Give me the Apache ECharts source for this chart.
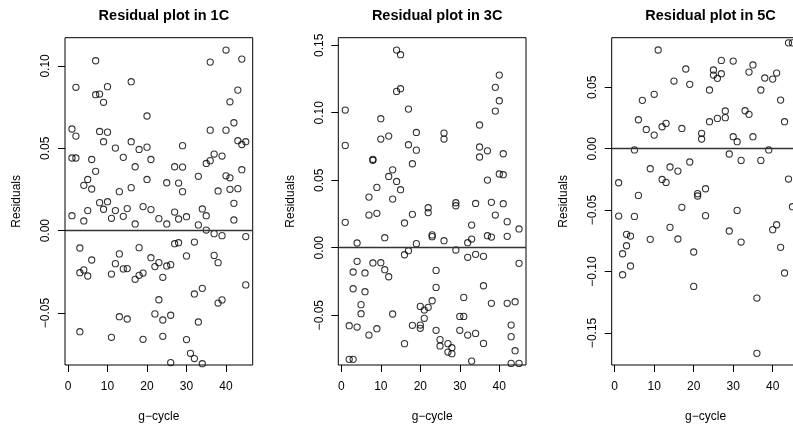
<!DOCTYPE html>
<html>
<head>
<meta charset="utf-8">
<script src="https://cdn.jsdelivr.net/npm/echarts@6/dist/echarts.min.js"></script>
<style>
  html, body { margin: 0; padding: 0; background: #ffffff; }
  #chart { width: 793px; height: 427px; }
</style>
</head>
<body>
<div id="chart"></div>
<script>
// Panel titles and axis names
const panelTitles = ['Residual plot in 1C', 'Residual plot in 3C', 'Residual plot in 5C'];
const xName = 'g\u2212cycle';
const yName = 'Residuals';

// Axis extents and tick values
const xRange = [-0.76, 46.76];
const xTicks = [0, 10, 20, 30, 40];
const yRange1C = [-0.0815, 0.1171];
const yRange3C = [-0.0869, 0.1556];
const yRange5C = [-0.1761, 0.0904];
const yTicks1C = [-0.05, 0, 0.05, 0.10];
const yTicks3C = [-0.05, 0, 0.05, 0.10, 0.15];
const yTicks5C = [-0.15, -0.10, -0.05, 0, 0.05];
const referenceLevel = 0;

// Residuals per g-cycle, [cycle, residual]
const resid1C = [
  [1,0.0617],[1,0.0441],[1,0.0091],
  [2,0.0870],[2,0.0574],[2,0.0441],
  [3,-0.0105],[3,-0.0255],[3,-0.0613],
  [4,0.0275],[4,0.0059],[4,-0.0238],
  [5,0.0311],[5,0.0122],[5,-0.0275],
  [6,0.0432],[6,0.0253],[6,-0.0178],
  [7,0.1031],[7,0.0825],[7,0.0360],
  [8,0.0829],[8,0.0602],[8,0.0170],
  [9,0.0779],[9,0.0540],[9,0.0130],
  [10,0.0874],[10,0.0598],[10,0.0176],
  [11,0.0075],[11,-0.0263],[11,-0.0647],
  [12,0.0501],[12,0.0122],[12,-0.0200],
  [13,0.0237],[13,-0.0141],[13,-0.0522],
  [14,0.0445],[14,0.0087],[14,-0.0232],
  [15,0.0134],[15,-0.0230],[15,-0.0536],
  [16,0.0904],[16,0.0540],[16,0.0261],
  [17,0.0388],[17,0.0041],[17,-0.0295],
  [18,0.0493],[18,-0.0103],[18,-0.0271],
  [19,0.0146],[19,-0.0257],[19,-0.0659],
  [20,0.0696],[20,0.0507],[20,0.0311],
  [21,0.0432],[21,0.0128],[21,-0.0164],
  [22,-0.0218],[22,-0.0505],
  [23,0.0073],[23,-0.0194],[23,-0.0419],
  [24,-0.0283],[24,-0.0542],[24,-0.0641],
  [25,0.0291],[25,0.0041],[25,-0.0214],
  [26,-0.0206],[26,-0.0513],[26,-0.0800],
  [27,0.0388],[27,0.0113],[27,-0.0079],
  [28,0.0289],[28,0.0071],[28,-0.0073],
  [29,0.0516],[29,0.0386],[29,0.0237],
  [30,0.0085],[30,-0.0153],[30,-0.0661],
  [31,-0.0744],
  [32,-0.0069],[32,-0.0384],[32,-0.0776],
  [33,0.0330],[33,0.0035],[33,-0.0554],
  [34,0.0132],[34,-0.0350],[34,-0.0807],
  [35,0.0408],[35,0.0091],[35,0.0004],
  [36,0.1023],[36,0.0610],[36,0.0425],
  [37,0.0465],[37,-0.0018],[37,-0.0150],
  [38,0.0241],[38,-0.0194],[38,-0.0439],
  [39,0.0453],[39,-0.0030],[39,-0.0420],
  [40,0.1096],[40,0.0610],[40,0.0333],
  [41,0.0782],[41,0.0321],[41,0.0251],
  [42,0.0655],[42,0.0166],[42,0.0065],
  [43,0.0853],[43,0.0546],[43,0.0255],
  [44,0.1041],[44,0.0523],[44,0.0370],
  [45,0.0540],[45,-0.0036],[45,-0.0329]
];

const resid3C = [
  [1,0.1020],[1,0.0758],[1,0.0188],
  [2,-0.0578],[2,-0.0827],
  [3,-0.0180],[3,-0.0304],[3,-0.0827],
  [4,0.0035],[4,-0.0101],[4,-0.0588],
  [5,-0.0422],[5,-0.0489],
  [6,-0.0187],[6,-0.0326],
  [7,0.0375],[7,0.0242],[7,-0.0647],
  [8,0.0655],[8,0.0648],[8,-0.0113],
  [9,0.0447],[9,0.0255],[9,-0.0600],
  [10,0.0956],[10,0.0805],[10,-0.0111],
  [11,0.0074],[11,-0.0163],
  [12,0.0827],[12,0.0528],[12,-0.0215],
  [13,0.0577],[13,0.0360],[13,-0.0491],
  [14,0.1464],[14,0.1158],[14,0.0491],
  [15,0.1430],[15,0.1178],[15,0.0430],
  [16,0.0183],[16,-0.0052],[16,-0.0711],
  [17,0.1027],[17,0.0763],[17,-0.0022],
  [18,0.0622],[18,0.0247],[18,-0.0575],
  [19,0.0854],[19,0.0723],[19,0.0030],
  [20,-0.0435],[20,-0.0573],[20,-0.0597],
  [21,-0.0462],[21,-0.0523],
  [22,0.0296],[22,0.0260],[22,-0.0442],
  [23,0.0095],[23,0.0082],[23,-0.0393],
  [24,-0.0168],[24,-0.0294],[24,-0.0612],
  [25,-0.0681],[25,-0.0728],
  [26,0.0849],[26,0.0805],[26,0.0052],
  [27,-0.0711],[27,-0.0773],
  [28,-0.0741],[28,-0.0785],
  [29,0.0333],[29,0.0311],[29,-0.0017],
  [30,-0.0509],[30,-0.0612],
  [31,-0.0368],[31,-0.0509],
  [32,0.0037],[32,-0.0071],[32,-0.0647],
  [33,0.0168],[33,0.0064],[33,-0.0840],
  [34,0.0328],[34,-0.0049],[34,-0.0635],
  [35,0.0909],[35,0.0746],[35,0.0672],
  [36,-0.0064],[36,-0.0282],[36,-0.0709],
  [37,0.0718],[37,0.0501],[37,0.0089],
  [38,0.0336],[38,0.0079],[38,-0.0412],
  [39,0.1188],[39,0.1012],[39,0.0242],
  [40,0.1279],[40,0.1089],[40,0.0546],
  [41,0.0696],[41,0.0541],[41,0.0326],
  [42,0.0193],[42,0.0084],[42,-0.0412],
  [43,-0.0573],[43,-0.0659],[43,-0.0857],
  [44,-0.0400],[44,-0.0763],
  [45,0.0139],[45,-0.0116],[45,-0.0857]
];

const resid5C = [
  [1,-0.0277],[1,-0.0548],
  [2,-0.0855],[2,-0.1026],
  [3,-0.0697],[3,-0.0790],
  [4,-0.0711],[4,-0.0955],
  [5,-0.0010],[5,-0.0551],
  [6,0.0236],[6,-0.0380],
  [7,0.0394],
  [8,0.0157],
  [9,-0.0163],[9,-0.0738],
  [10,0.0443],[10,0.0111],
  [11,0.0804],
  [12,0.0179],[12,-0.0250],
  [13,0.0206],[13,-0.0274],
  [14,-0.0149],[14,-0.0640],
  [15,0.0551],
  [16,-0.0182],[16,-0.0735],
  [17,0.0165],[17,-0.0477],
  [18,0.0649],
  [19,0.0524],[19,-0.0108],
  [20,-0.0841],[20,-0.1121],
  [21,-0.0366],[21,-0.0385],
  [22,0.0125],[22,0.0079],
  [23,-0.0326],[23,-0.0545],
  [24,0.0478],[24,0.0220],
  [25,0.0641],[25,0.0600],
  [26,0.0573],[26,0.0247],
  [27,0.0719],[27,0.0611],
  [28,0.0307],[28,0.0253],
  [29,-0.0043],[29,-0.0670],
  [30,0.0714],[30,0.0098],
  [31,0.0057],[31,-0.0502],
  [32,-0.0095],[32,-0.0760],
  [33,0.0309],
  [34,0.0624],[34,0.0280],
  [35,0.0682],[35,0.0098],
  [36,-0.1216],[36,-0.1666],
  [37,0.0478],[37,-0.0095],
  [38,0.0576],
  [39,0.0905],[39,-0.0010],
  [40,0.0567],[40,-0.0659],
  [41,0.0616],[41,-0.0619],
  [42,0.0396],[42,-0.0803],
  [43,0.0220],[43,-0.1012],
  [44,0.0862],[44,-0.0247],
  [45,0.0862],[45,-0.0472]
];

const panels = [
  { title: panelTitles[0], data: resid1C, yRange: yRange1C, yTicks: yTicks1C },
  { title: panelTitles[1], data: resid3C, yRange: yRange3C, yTicks: yTicks3C },
  { title: panelTitles[2], data: resid5C, yRange: yRange5C, yTicks: yTicks5C }
];

// Layout of the three plotting boxes (pixels); the last one runs past the right edge
const FONT = '"Liberation Sans", Arial, Helvetica, sans-serif';
const boxLefts = [65, 338.3, 611.7];
const boxTop = 37.7;
const boxWidth = 187.7;
const boxHeight = 327.3;

const fmtTick = v => (Math.abs(v) < 1e-9 ? 0 : v).toFixed(2).replace('-', '\u2212');

const chart = echarts.init(document.getElementById('chart'), null, { renderer: 'canvas' });

const option = {
  animation: false,
  backgroundColor: '#ffffff',
  title: panels.map((p, i) => ({
    text: p.title,
    left: boxLefts[i] + boxWidth / 2,
    top: 3,
    textAlign: 'center',
    textStyle: { fontFamily: FONT, fontSize: 14.5, fontWeight: 'bold', color: '#000' }
  })),
  grid: panels.map((p, i) => ({
    left: boxLefts[i],
    top: boxTop,
    width: boxWidth,
    height: boxHeight,
    show: true,
    borderColor: '#000',
    borderWidth: 1,
    backgroundColor: 'transparent',
    containLabel: false,
    outerBoundsMode: 'none'
  })),
  xAxis: panels.map((p, i) => ({
    type: 'value',
    gridIndex: i,
    min: xRange[0],
    max: xRange[1],
    name: xName,
    nameLocation: 'middle',
    nameGap: 46,
    nameTextStyle: { fontFamily: FONT, fontSize: 12, color: '#000' },
    axisLine: { show: false, onZero: false },
    axisTick: { show: true, inside: false, length: 7, customValues: xTicks,
                lineStyle: { color: '#000', width: 1 } },
    axisLabel: { show: true, margin: 16, customValues: xTicks,
                 fontFamily: FONT, fontSize: 12, color: '#000',
                 formatter: v => String(v) },
    splitLine: { show: false }
  })),
  yAxis: panels.map((p, i) => ({
    type: 'value',
    gridIndex: i,
    min: p.yRange[0],
    max: p.yRange[1],
    name: yName,
    nameLocation: 'middle',
    nameGap: 42,
    nameRotate: 90,
    nameTextStyle: { fontFamily: FONT, fontSize: 12, color: '#000' },
    axisLine: { show: false, onZero: false },
    axisTick: { show: true, inside: false, length: 7, customValues: p.yTicks,
                lineStyle: { color: '#000', width: 1 } },
    axisLabel: { show: true, margin: 13, rotate: 90, customValues: p.yTicks,
                 fontFamily: FONT, fontSize: 12, color: '#000',
                 formatter: fmtTick },
    splitLine: { show: false }
  })),
  series: panels.map((p, i) => ({
    type: 'scatter',
    xAxisIndex: i,
    yAxisIndex: i,
    data: p.data,
    clip: true,
    symbol: 'circle',
    symbolSize: 6.2,
    itemStyle: { color: 'rgba(0,0,0,0)', borderColor: '#000', borderWidth: 1.1 },
    emphasis: { disabled: true },
    silent: true,
    markLine: {
      silent: true,
      animation: false,
      symbol: ['none', 'none'],
      label: { show: false },
      lineStyle: { color: '#333', width: 1.3, type: 'solid' },
      data: [{ yAxis: referenceLevel }]
    }
  }))
};

chart.setOption(option);
</script>
</body>
</html>
